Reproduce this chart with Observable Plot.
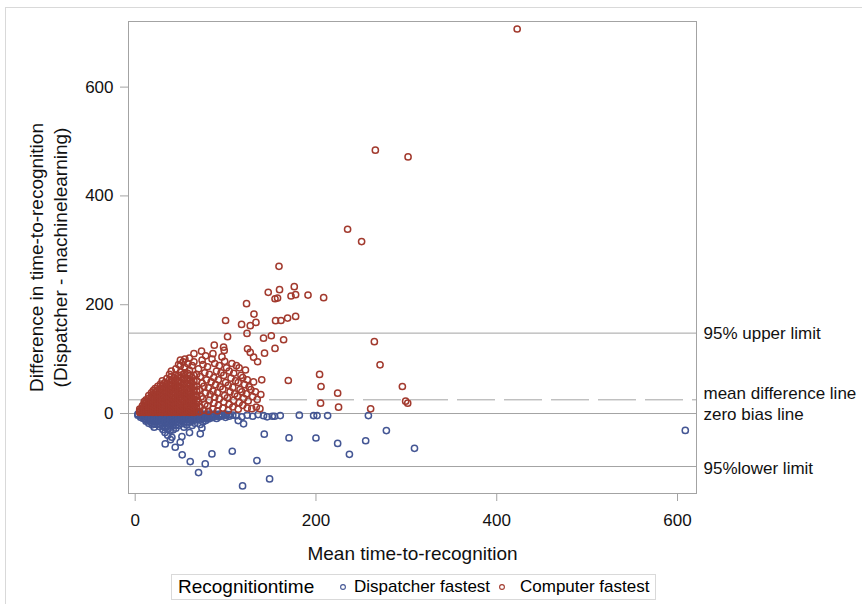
<!DOCTYPE html>
<html><head><meta charset="utf-8">
<script src="https://cdn.jsdelivr.net/npm/d3@7"></script>
<script src="https://cdn.jsdelivr.net/npm/@observablehq/plot@0.6"></script>
<style>
body{margin:0;background:#fff;font-family:"Liberation Sans",Arial,sans-serif;}
#wrap{position:relative;width:862px;height:604px;overflow:hidden;background:#fff;}
#frame{position:absolute;left:5px;top:7px;width:900px;height:700px;border:1px solid #d9d9d9;z-index:0;}
#chart{position:absolute;left:0;top:0;z-index:1;}
#legend{position:absolute;left:171px;top:574px;width:483px;height:24px;border:1px solid #d9d9d9;color:#000;z-index:2;background:#fff;}
#legend span{position:absolute;top:0;line-height:24px;white-space:nowrap;}
#legend svg{position:absolute;top:8px;}
</style></head>
<body><div id="wrap"><div id="frame"></div><div id="chart"></div><div id="legend"></div></div>
<script>
// ---- data ----
const xTicks = [0, 200, 400, 600];
const yTicks = [0, 200, 400, 600];
const groups = ["Dispatcher fastest", "Computer fastest"];
const colors = ["#445694", "#A23A2E"];
const refLimits = {upper: 147.8, mean: 25.2, zero: 0, lower: -97.4};
const refLabels = ["95% upper limit", "mean difference line", "zero bias line", "95%lower limit"];

// Computer fastest: dense cluster readings [mean, [differences]]
const computerCluster = [
 [5,[2,5,8,4]],[8,[3,6,10,14,7]],[10,[2,5,9,13,18,22]],[12,[3,7,11,16,20,25]],
 [15,[2,4,8,12,17,22,28,33]],[18,[3,6,10,15,20,26,31,38]],[20,[2,5,9,14,19,24,30,35,42]],
 [22,[3,7,12,17,22,28,34,40,46]],[25,[2,4,8,13,18,23,29,36,43,50]],[28,[3,6,11,16,21,27,33,39,46,54]],
 [30,[2,5,9,14,19,25,31,38,45,52,60]],[33,[3,7,12,17,23,29,35,42,49,57]],[35,[2,5,10,15,21,27,33,40,48,55,64]],
 [38,[4,8,13,19,25,32,39,46,54,62,72]],[40,[2,6,11,17,23,30,37,44,52,60,68,78]],[43,[3,8,14,20,27,34,41,49,57,66]],
 [45,[2,5,10,16,22,29,36,44,52,61,70,82]],[48,[4,9,15,21,28,35,43,51,60,70,90]],[50,[2,6,12,18,25,32,40,48,57,66,76,88,98]],
 [53,[3,8,14,21,28,36,44,53,62,72,95]],[55,[2,6,11,17,24,31,39,47,56,65,75,85,100]],[58,[4,9,15,22,30,38,46,55,64,74,92]],
 [60,[2,7,13,20,27,35,43,52,61,70,80,102]],[63,[3,8,14,22,30,38,47,56,66,88]],[65,[2,6,12,19,26,34,42,51,60,70,95,110]],
 [68,[4,10,17,24,32,41,50,60,72]]
];
// Computer fastest: individual readings [mean, difference]
const computerPoints = [
 [71,3],[72,12],[70,22],[73,31],[71,44],[74,56],[72,68],[70,82],[74,98],
 [76,6],[77,17],[75,27],[78,38],[76,50],[79,62],[77,75],[75,90],[78,106],
 [81,4],[80,14],[82,24],[83,35],[81,47],[84,58],[82,72],[80,86],[85,100],
 [86,8],[87,19],[88,30],[86,41],[89,53],[87,66],[90,78],[88,92],[86,110],
 [91,5],[92,15],[93,27],[91,38],[94,49],[92,62],[95,75],[93,88],[96,104],
 [97,10],[98,21],[99,33],[97,45],[100,57],[98,70],[101,84],[99,96],
 [103,6],[104,17],[102,29],[105,40],[103,52],[106,65],[104,78],[107,92],
 [108,12],[109,24],[110,36],[108,48],[111,60],[109,74],[112,88],
 [114,8],[115,20],[113,32],[116,44],[114,57],[117,70],[115,84],
 [119,15],[120,28],[118,40],[121,53],[119,66],[122,80],
 [124,10],[125,23],[123,36],[126,49],[124,62],
 [129,9],[130,31],[128,44],[131,58],[134,12],[135,26],[133,40],[138,9],[139,35],[140,62],
 [73.4,114.7],[87.5,125.7],[97.8,122],[98.5,116],[100,171],[102.2,141.2],[117.7,163.8],[123.2,202],
 [123.7,147.2],[124.3,119],[127.3,112.3],[127.3,161.4],[131,103.6],[131.4,182.8],[133.6,167.5],[135.4,95.2],
 [142,138.6],[143.1,111],[147.2,222.7],[150.6,143],[154.7,119.6],[154.7,211],[155.3,170.6],[157.5,212.2],
 [159.1,270.6],[159.7,227.7],[161.3,171],[164.2,135.6],[168.6,175.4],[169.4,60.7],[172.4,216],[176,233.2],
 [177.5,218.5],[177.5,178.5],[191.2,217.8],[204,71.8],[205.6,49.7],[205.1,19],[208.5,213],[224,37.4],
 [225,11.7],[235,338.7],[250.5,316],[260.5,8.6],[264.6,132],[265.7,484],[270.9,89.6],[295.6,49.7],
 [299.2,22.7],[301.5,19],[301.9,471.7],[422.6,706.8]
];
// Dispatcher fastest: dense band readings [mean, [differences]]
const dispatcherCluster = [
 [3,[-1,-3]],[6,[-2,-4,-7]],[9,[-1,-3,-6,-9]],[12,[-2,-4,-7,-11,-14]],[15,[-1,-3,-6,-9,-13,-18]],
 [18,[-2,-5,-8,-12,-16]],[21,[-1,-3,-6,-10,-14,-19,-25]],[24,[-2,-4,-7,-11,-15,-20]],
 [27,[-1,-3,-6,-9,-13,-18,-24]],[30,[-2,-5,-8,-12,-17,-22]],[33,[-1,-3,-6,-10,-14,-19,-26,-35]],
 [36,[-2,-4,-7,-11,-16,-22,-28,-40]],[39,[-1,-3,-6,-9,-13,-18,-25,-48]],[42,[-2,-5,-8,-12,-17,-23,-30]],
 [45,[-1,-3,-6,-10,-15,-21,-27]],[48,[-2,-4,-7,-11,-16,-22]],[51,[-1,-3,-6,-9,-13,-19]],
 [54,[-2,-5,-8,-12,-18,-25]],[57,[-1,-3,-6,-10,-15,-21]],[60,[-2,-4,-7,-11,-16]],
 [63,[-1,-3,-6,-10,-14,-22]],[66,[-2,-5,-8,-12,-18]],[69,[-1,-3,-6,-10]],[72,[-2,-4,-7,-12,-20]],
 [75,[-1,-3,-6,-9,-15]],[78,[-2,-5,-8,-13]],[81,[-1,-3,-6,-10]],[84,[-2,-4,-8]],[87,[-1,-3,-6]],
 [90,[-2,-5,-9]],[93,[-1,-3,-6]],[96,[-2,-4]],[100,[-1,-3,-7]],[104,[-2,-5]],[108,[-3]]
];
// Dispatcher fastest: individual readings [mean, difference]
const dispatcherPoints = [
 [18.8,-20.8],[33.2,-55.8],[52,-76],[60.9,-88.4],[70.1,-108.6],[77.5,-92.6],[84.9,-74.2],[107.4,-69.3],
 [134.7,-86.5],[118.8,-133],[148.7,-120.3],[142.8,-38],[170.2,-44.8],[119.9,-19],[114,-12.9],[72,-37.4],
 [73.8,-26.4],[60.1,-35],[51.7,-42.3],[44.3,-62],[40.6,-43.6],[38.7,-31.3],[30.7,-29.5],[49.8,-52.8],
 [112,-4],[118,-6],[124,-3],[130,-5],[136,-2],[142,-4],[146,-6],
 [151.7,-5],[154.2,-5],[160.5,-3.7],[181.6,-3],[197.4,-3.7],[201.2,-3.7],[212.9,-3.7],[258,-3.7],
 [277.9,-31.3],[200,-45],[224,-55],[237,-75],[255,-50],[309,-64],[608.6,-31]
];

// ---- build tables ----
const expand = (cluster) => cluster.flatMap(([m, ds]) => ds.map(d => [m, d]));
const rows = [
  ...[...expand(dispatcherCluster), ...dispatcherPoints].map(([m, d]) => ({mean: m, diff: d, group: groups[0]})),
  ...[...expand(computerCluster), ...computerPoints].map(([m, d]) => ({mean: m, diff: d, group: groups[1]}))
];

const font = "'Liberation Sans', Arial, sans-serif";
const lineColor = "#a3a3a3";

const chart = Plot.plot({
  width: 862, height: 565,
  marginLeft: 128, marginRight: 166, marginTop: 21, marginBottom: 72,
  x: {domain: [-7.4, 621]},
  y: {domain: [-147, 720.6]},
  color: {domain: groups, range: colors},
  style: {fontFamily: font, fontSize: "17px", background: "transparent", color: "#000", overflow: "visible"},
  marks: [
    Plot.ruleY([refLimits.upper, refLimits.zero, refLimits.lower], {stroke: lineColor, strokeWidth: 1}),
    Plot.ruleY([refLimits.mean], {stroke: lineColor, strokeWidth: 1, strokeDasharray: "38,9"}),
    Plot.dot(rows, {x: "mean", y: "diff", stroke: "group", r: 3.1, strokeWidth: 1.5, fill: "none"}),
    Plot.frame({stroke: lineColor}),
    Plot.axisX({ticks: xTicks, tickSize: 8, tickPadding: 12, fontSize: 17, label: null, stroke: lineColor, fill: "#111"}),
    Plot.axisY({ticks: yTicks, tickSize: 8, tickPadding: 7, fontSize: 17, label: null, stroke: lineColor, fill: "#111"}),
    Plot.text(["Mean time-to-recognition"], {frameAnchor: "bottom", dy: 60, lineAnchor: "middle", textAnchor: "middle", fontSize: 19, fill: "#111"}),
    Plot.text(["Difference in time-to-recognition\n(Dispatcher - machinelearning)"], {frameAnchor: "left", dx: -81, rotate: -90, lineAnchor: "middle", textAnchor: "middle", fontSize: 19, lineHeight: 1.23, fill: "#111"}),
    Plot.text([refLimits.upper], {y: d => d, text: () => refLabels[0], frameAnchor: "right", dx: 7, textAnchor: "start", fontSize: 17, fill: "#111"}),
    Plot.text([refLimits.mean], {y: d => d, text: () => refLabels[1], frameAnchor: "right", dx: 7, dy: -6, textAnchor: "start", fontSize: 17, fill: "#111"}),
    Plot.text([refLimits.zero], {y: d => d, text: () => refLabels[2], frameAnchor: "right", dx: 7, dy: 1, textAnchor: "start", fontSize: 17, fill: "#111"}),
    Plot.text([refLimits.lower], {y: d => d, text: () => refLabels[3], frameAnchor: "right", dx: 7, dy: 2, textAnchor: "start", fontSize: 17, fill: "#111"})
  ]
});
document.getElementById("chart").appendChild(chart);

// ---- legend ----
const legend = document.getElementById("legend");
const title = document.createElement("span");
title.textContent = "Recognitiontime";
title.style.left = "6px"; title.style.fontSize = "19px";
legend.appendChild(title);
const items = [[171, 182], [330, 348]];
groups.forEach((g, i) => {
  const ns = "http://www.w3.org/2000/svg";
  const s = document.createElementNS(ns, "svg");
  s.setAttribute("width", 8); s.setAttribute("height", 8);
  s.style.left = (items[i][0] - 4) + "px";
  const c = document.createElementNS(ns, "circle");
  c.setAttribute("cx", 4); c.setAttribute("cy", 4); c.setAttribute("r", 2.4);
  c.setAttribute("fill", "none"); c.setAttribute("stroke", colors[i]); c.setAttribute("stroke-width", 1.1);
  s.appendChild(c); legend.appendChild(s);
  const t = document.createElement("span");
  t.textContent = g; t.style.left = items[i][1] + "px"; t.style.fontSize = "17px";
  legend.appendChild(t);
});
</script></body></html>
